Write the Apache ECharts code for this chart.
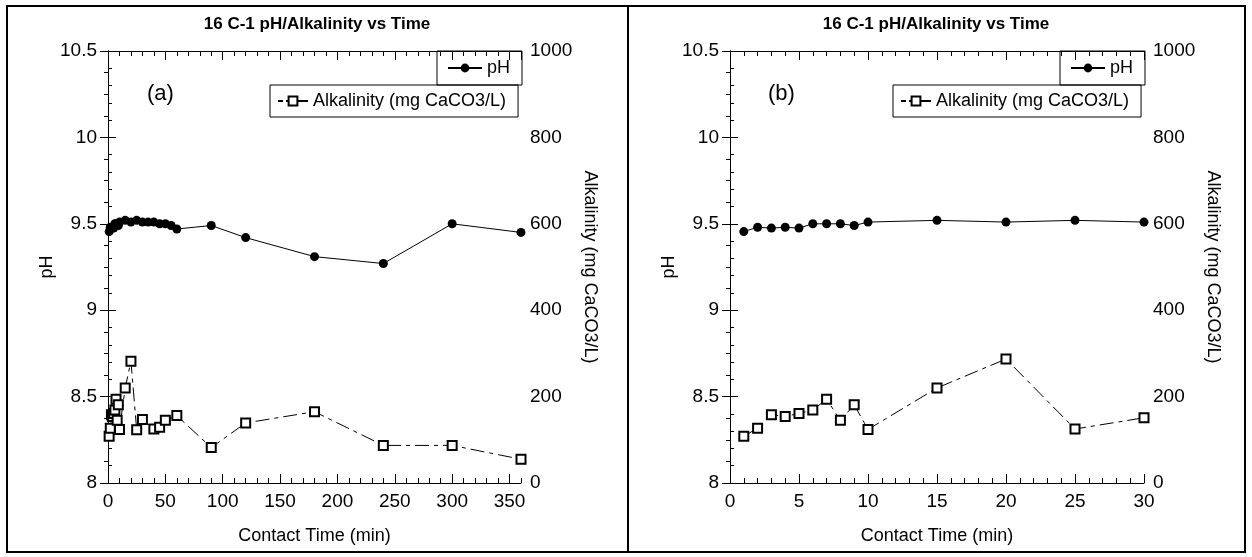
<!DOCTYPE html>
<html>
<head>
<meta charset="utf-8">
<script src="https://cdn.jsdelivr.net/npm/echarts@6/dist/echarts.min.js"></script>
<style>
  html, body { margin: 0; padding: 0; background: #fff; }
  #chart { width: 1252px; height: 557px; }
</style>
</head>
<body>
<div id="chart"></div>
<script>
// ---- Panel (a): full run, 0–360 min ----
const phTimeA = [1, 2, 3, 4, 5, 6, 7, 8, 9, 10, 15, 20, 25, 30, 35, 40, 45, 50, 55, 60, 90, 120, 180, 240, 300, 360];
const phA = [9.455, 9.48, 9.475, 9.48, 9.475, 9.50, 9.50, 9.50, 9.49, 9.51, 9.52, 9.51, 9.52, 9.51, 9.51, 9.51, 9.50, 9.50, 9.49, 9.47, 9.49, 9.42, 9.31, 9.27, 9.50, 9.45];
const alkTimeA = [1, 2, 3, 4, 5, 6, 7, 8, 9, 10, 15, 20, 25, 30, 40, 45, 50, 60, 90, 120, 180, 240, 300, 360];
const alkA = [108, 127, 158, 154, 161, 169, 194, 145, 181, 124, 220, 282, 123, 147, 125, 129, 145, 156, 82, 139, 165, 87, 87, 55];

// ---- Panel (b): first 30 min ----
const timeB = [1, 2, 3, 4, 5, 6, 7, 8, 9, 10, 15, 20, 25, 30];
const phB = [9.455, 9.48, 9.475, 9.48, 9.475, 9.50, 9.50, 9.50, 9.49, 9.51, 9.52, 9.51, 9.52, 9.51];
const alkB = [108, 127, 158, 154, 161, 169, 194, 145, 181, 124, 220, 287, 125, 151];

// ---- Axis ticks ----
const xTicksA = [0, 50, 100, 150, 200, 250, 300, 350];
const xMaxA = 360;
const xMinorA = 10;
const xTicksB = [0, 5, 10, 15, 20, 25, 30];
const phTicks = [8, 8.5, 9, 9.5, 10, 10.5];
const alkTicks = [0, 200, 400, 600, 800, 1000];

const titleText = '16 C-1 pH/Alkalinity vs Time';
const panelTags = ['(a)', '(b)'];
const xName = 'Contact Time (min)';
const phName = 'pH';
const alkName = 'Alkalinity (mg CaCO3/L)';

const FONT = '"Liberation Sans", Arial, sans-serif';
const BLACK = '#000';

const zip = (xs, ys) => xs.map((x, i) => [x, ys[i]]);
const step = t => t[1] - t[0];

const lineAxis = { show: true, lineStyle: { color: BLACK, width: 1 } };
const noLabel = { show: false };
const label = { color: BLACK, fontFamily: FONT, fontSize: 19, margin: 9, formatter: v => String(v) };
const yLabel = Object.assign({}, label, { margin: 11 });
const nameStyle = { color: BLACK, fontFamily: FONT, fontSize: 18 };

// x axes for panel (a): minor-tick axes every 10 min plus labelled axes every 50 min
function xAxesA() {
  const common = { type: 'value', gridIndex: 0, min: 0, max: xMaxA, splitLine: { show: false } };
  return [
    Object.assign({}, common, { position: 'bottom', interval: xMinorA, axisLine: lineAxis,
      axisTick: { inside: true, length: 5, lineStyle: { color: BLACK } }, axisLabel: noLabel }),
    Object.assign({}, common, { position: 'bottom', interval: step(xTicksA), axisLine: { show: false },
      axisTick: { inside: true, length: 9, lineStyle: { color: BLACK } },
      axisLabel: Object.assign({ showMaxLabel: false }, label),
      name: xName, nameLocation: 'middle', nameGap: 44, nameTextStyle: nameStyle }),
    Object.assign({}, common, { position: 'top', interval: xMinorA, axisLine: lineAxis,
      axisTick: { inside: true, length: 5, lineStyle: { color: BLACK } }, axisLabel: noLabel }),
    Object.assign({}, common, { position: 'top', interval: step(xTicksA), axisLine: { show: false },
      axisTick: { inside: true, length: 9, lineStyle: { color: BLACK } }, axisLabel: noLabel })
  ];
}

function xAxesB() {
  const common = { type: 'value', gridIndex: 1, min: xTicksB[0], max: xTicksB[xTicksB.length - 1],
    interval: step(xTicksB), splitLine: { show: false }, axisLine: lineAxis,
    axisTick: { inside: true, length: 9, lineStyle: { color: BLACK } },
    minorTick: { show: true, splitNumber: 5, length: 5, lineStyle: { color: BLACK } } };
  return [
    Object.assign({}, common, { position: 'bottom', axisLabel: label,
      name: xName, nameLocation: 'middle', nameGap: 44, nameTextStyle: nameStyle }),
    Object.assign({}, common, { position: 'top', axisLabel: noLabel })
  ];
}

function yAxes(gridIndex) {
  return [
    { type: 'value', gridIndex, position: 'left', min: phTicks[0], max: phTicks[phTicks.length - 1],
      interval: step(phTicks), splitLine: { show: false }, axisLine: lineAxis,
      axisTick: { inside: true, length: 8, lineStyle: { color: BLACK } },
      minorTick: { show: true, splitNumber: 5, length: 4, lineStyle: { color: BLACK } },
      axisLabel: yLabel, name: phName, nameLocation: 'middle', nameGap: 38, nameTextStyle: nameStyle },
    { type: 'value', gridIndex, position: 'right', min: alkTicks[0], max: alkTicks[alkTicks.length - 1],
      interval: step(alkTicks), splitLine: { show: false }, axisLine: lineAxis,
      axisTick: { inside: true, length: 8, lineStyle: { color: BLACK } },
      minorTick: { show: true, splitNumber: 4, length: 4, lineStyle: { color: BLACK } },
      axisLabel: label, name: alkName, nameLocation: 'middle', nameRotate: -90, nameGap: 60, nameTextStyle: nameStyle }
  ];
}

function phSeries(xIdx, yIdx, data) {
  return { name: phName, type: 'line', xAxisIndex: xIdx, yAxisIndex: yIdx, data,
    symbol: 'circle', symbolSize: 9, color: BLACK, itemStyle: { color: BLACK },
    lineStyle: { color: BLACK, width: 1 }, z: 3, animation: false };
}
function alkSeries(xIdx, yIdx, data) {
  return { name: alkName, type: 'line', xAxisIndex: xIdx, yAxisIndex: yIdx, data,
    symbol: 'emptyRect', symbolSize: 9, color: BLACK, itemStyle: { color: BLACK, borderWidth: 1 },
    lineStyle: { color: BLACK, width: 1, type: [14, 5, 4, 5] }, z: 2, animation: false };
}

function legends(boxRight) {
  const ts = { color: BLACK, fontFamily: FONT, fontSize: 18 };
  return [
    { data: [phName], left: boxRight - 84, top: 51, orient: 'horizontal', itemWidth: 34, itemHeight: 11,
      padding: [8, 12, 8, 10], borderColor: BLACK, borderWidth: 1, borderRadius: 0,
      textStyle: ts, selectedMode: false },
    { data: [alkName], left: boxRight - 251, top: 85, orient: 'horizontal', itemWidth: 30, itemHeight: 11,
      padding: [7, 12, 7, 7], borderColor: BLACK, borderWidth: 1, borderRadius: 0,
      lineStyle: { type: [5, 3, 40, 1] },
      textStyle: ts, selectedMode: false }
  ];
}

const grids = [
  { left: 108, top: 51, width: 413, height: 432 },
  { left: 730, top: 51, width: 414, height: 432 }
];

const option = {
  backgroundColor: '#fff',
  animation: false,
  title: [
    { text: titleText, left: 317, top: 16, textAlign: 'center', padding: 0,
      textStyle: { color: BLACK, fontFamily: FONT, fontSize: 17, fontWeight: 'bold' } },
    { text: titleText, left: 936, top: 16, textAlign: 'center', padding: 0,
      textStyle: { color: BLACK, fontFamily: FONT, fontSize: 17, fontWeight: 'bold' } }
  ],
  grid: grids,
  xAxis: xAxesA().concat(xAxesB()),
  yAxis: yAxes(0).concat(yAxes(1)),
  legend: legends(521).concat(legends(1144)),
  series: [
    alkSeries(0, 1, zip(alkTimeA, alkA)),
    phSeries(0, 0, zip(phTimeA, phA)),
    alkSeries(4, 3, zip(timeB, alkB)),
    phSeries(4, 2, zip(timeB, phB))
  ],
  graphic: [
    { type: 'rect', shape: { x: 7, y: 6, width: 621, height: 546 },
      style: { fill: 'none', stroke: BLACK, lineWidth: 2 }, silent: true },
    { type: 'rect', shape: { x: 628, y: 6, width: 617, height: 546 },
      style: { fill: 'none', stroke: BLACK, lineWidth: 2 }, silent: true },
    { type: 'text', left: 147, top: 83, silent: true,
      style: { text: panelTags[0], fill: BLACK, font: '22px ' + FONT } },
    { type: 'text', left: 768, top: 83, silent: true,
      style: { text: panelTags[1], fill: BLACK, font: '22px ' + FONT } }
  ]
};

const chart = echarts.init(document.getElementById('chart'), null, { renderer: 'canvas' });
chart.setOption(option);
</script>
</body>
</html>
